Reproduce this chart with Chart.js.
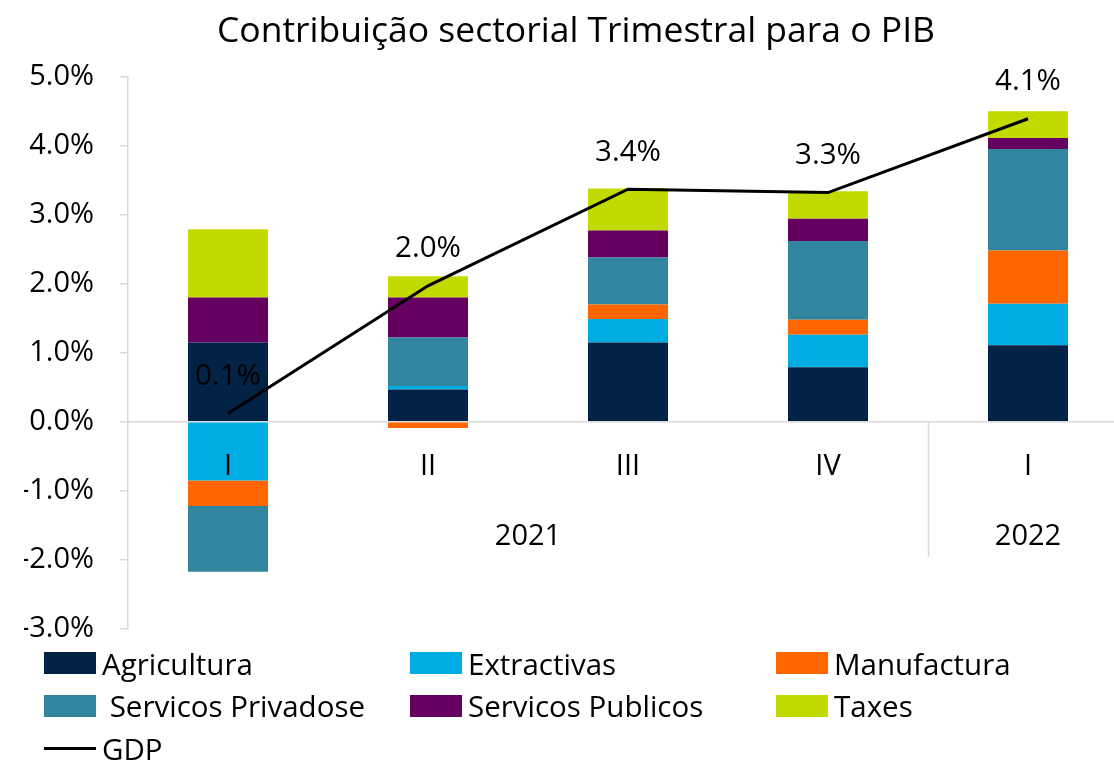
<!DOCTYPE html>
<html>
<head>
<meta charset="utf-8">
<script src="https://cdn.jsdelivr.net/npm/chart.js@4/dist/chart.umd.min.js"></script>
<style>
  html, body { margin: 0; padding: 0; overflow: hidden; background: #fff; }
  #wrap { position: relative; width: 1114px; height: 761px; overflow: hidden; }
  #wrap canvas { position: absolute; left: 0; top: 0; }
  #legend {
    position: absolute; left: 44px; top: 642px;
    display: grid; grid-template-columns: 366px 366px 330px; grid-auto-rows: 42.5px;
    font-family: 'Open Sans', sans-serif; font-size: 29.5px; color: #000;
  }
  .item { display: flex; align-items: center; white-space: pre; }
  .sw { width: 52px; height: 22px; margin-right: 6px; flex: none; }
  .ln { width: 52px; height: 3px; background: #000; margin-right: 6px; flex: none; }
</style>
</head>
<body>
<div id="wrap">
  <canvas id="chart" width="1130" height="761"></canvas>
  <div id="legend"></div>
</div>
<script>
const FONT = "'Open Sans', sans-serif";
const TITLE = 'Contribuição sectorial Trimestral para o PIB';

// quarters and the year groups under them
const quarters = ['I', 'II', 'III', 'IV', 'I'];
const yearLabels = ['2021', '2022'];
const yearSpans = [[0, 3], [4, 4]];

// contributions, percentage points
const agricultura  = [1.15, 0.47, 1.15, 0.79, 1.11];
const extractivas  = [-0.85, 0.05, 0.34, 0.47, 0.60];
const manufactura  = [-0.37, -0.09, 0.21, 0.22, 0.77];
const servPrivados = [-0.95, 0.70, 0.68, 1.14, 1.47];
const servPublicos = [0.65, 0.58, 0.39, 0.32, 0.16];
const taxes        = [0.99, 0.31, 0.61, 0.40, 0.39];
const gdp          = [0.12, 1.97, 3.37, 3.32, 4.39];
const gdpLabels    = ['0.1%', '2.0%', '3.4%', '3.3%', '4.1%'];

const yTicks = { min: -3, max: 5, step: 1 };

const bar = (label, data, color) => ({
  type: 'bar', label, data, backgroundColor: color, borderWidth: 0,
  order: 1, stack: 'sectors', categoryPercentage: 0.8, barPercentage: 0.5
});

const datasets = [
  bar('Agricultura', agricultura, '#022246'),
  bar('Extractivas', extractivas, '#00ADE3'),
  bar('Manufactura', manufactura, '#FF6600'),
  bar(' Servicos Privadose', servPrivados, '#31859C'),
  bar('Servicos Publicos', servPublicos, '#650060'),
  bar('Taxes', taxes, '#C1DB00'),
  {
    type: 'line', label: 'GDP', data: gdp, borderColor: '#000', borderWidth: 3,
    pointRadius: 0, tension: 0, fill: false, order: 0, stack: 'gdp'
  }
];

// year row + divider under the quarter labels
const yearPlugin = {
  id: 'years',
  afterDraw(chart) {
    const { ctx, scales: { x, y } } = chart;
    const y0 = y.getPixelForValue(0);
    ctx.save();
    ctx.font = `29px ${FONT}`;
    ctx.fillStyle = '#000';
    ctx.textAlign = 'center';
    ctx.textBaseline = 'middle';
    yearLabels.forEach((lab, i) => {
      const [a, b] = yearSpans[i];
      ctx.fillText(lab, (x.getPixelForValue(a) + x.getPixelForValue(b)) / 2, y0 + 115);
      if (i > 0) {
        const xd = Math.round((x.getPixelForValue(a) + x.getPixelForValue(yearSpans[i - 1][1])) / 2) + 0.5;
        ctx.strokeStyle = '#d9d9d9';
        ctx.lineWidth = 1.5;
        ctx.beginPath();
        ctx.moveTo(xd, y0);
        ctx.lineTo(xd, y0 + 135);
        ctx.stroke();
      }
    });
    ctx.restore();
  }
};

// GDP value labels above the line
const gdpLabelPlugin = {
  id: 'gdpLabels',
  afterDatasetsDraw(chart) {
    const { ctx } = chart;
    const meta = chart.getDatasetMeta(6);
    ctx.save();
    ctx.font = `29.5px ${FONT}`;
    ctx.fillStyle = '#000';
    ctx.textAlign = 'center';
    ctx.textBaseline = 'middle';
    meta.data.forEach((pt, i) => ctx.fillText(gdpLabels[i], pt.x, pt.y - 37));
    ctx.restore();
  }
};

const chart = new Chart(document.getElementById('chart'), {
  data: { labels: quarters, datasets },
  plugins: [yearPlugin, gdpLabelPlugin],
  options: {
    responsive: false,
    animation: false,
    layout: { padding: { left: 24, right: 2, top: 0, bottom: 132 } },
    plugins: {
      legend: { display: false },
      tooltip: { enabled: false },
      title: {
        display: true, text: TITLE, color: '#000',
        font: { family: FONT, size: 35.5, weight: 'normal' },
        padding: { top: 11, bottom: 23 }
      }
    },
    scales: {
      x: {
        position: { y: 0 },
        stacked: true,
        grid: { display: false, drawTicks: false },
        border: { display: true, color: '#d9d9d9', width: 1.5 },
        ticks: { z: 1, padding: 27, color: '#000', font: { family: FONT, size: 29 } }
      },
      y: {
        stacked: true,
        min: yTicks.min, max: yTicks.max,
        afterFit: s => { s.width = 104; },
        ticks: {
          stepSize: yTicks.step, padding: 26, color: '#000',
          font: { family: FONT, size: 29 },
          callback: v => v.toFixed(1) + '%'
        },
        grid: { drawOnChartArea: false, drawTicks: true, tickLength: 8, color: '#d9d9d9', lineWidth: 1.5 },
        border: { display: true, color: '#d9d9d9', width: 1.5 }
      }
    }
  }
});

// html legend, three columns like the original
const legendEl = document.getElementById('legend');
legendEl.innerHTML = chart.data.datasets.map(d => {
  const mark = d.type === 'line'
    ? '<span class="ln"></span>'
    : `<span class="sw" style="background:${d.backgroundColor}"></span>`;
  return `<div class="item">${mark}<span>${d.label}</span></div>`;
}).join('');
</script>
</body>
</html>
